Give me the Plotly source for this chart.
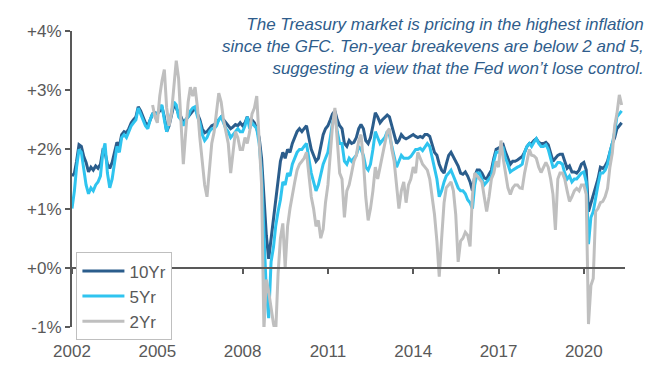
import pandas as pd
import plotly.graph_objects as go

# Monthly breakeven inflation readings (%)
ten_yr = [
    1.55, 1.6, 1.8, 2.08, 2.05, 1.88, 1.78, 1.62, 1.7, 1.65, 1.72, 1.68,   # 2002
    1.75, 1.98, 1.95, 1.75, 1.68, 1.78, 1.95, 2.12, 2.05, 2.25, 2.3, 2.28,  # 2003
    2.35, 2.45, 2.5, 2.55, 2.72, 2.65, 2.55, 2.45, 2.4, 2.5, 2.6, 2.62,     # 2004
    2.6, 2.65, 2.72, 2.55, 2.3, 2.4, 2.55, 2.75, 2.7, 2.6, 2.55, 2.45,      # 2005
    2.5, 2.55, 2.6, 2.65, 2.7, 2.6, 2.5, 2.35, 2.28, 2.3, 2.35, 2.4,        # 2006
    2.42, 2.45, 2.5, 2.55, 2.5, 2.45, 2.4, 2.35, 2.38, 2.42, 2.4, 2.45,     # 2007
    2.4, 2.45, 2.55, 2.45, 2.5, 2.45, 2.35, 2.2, 1.85, 1.2, 0.55, 0.15,     # 2008
    0.5, 0.9, 1.2, 1.5, 1.8, 1.95, 1.85, 2.0, 1.95, 2.1, 2.2, 2.3,          # 2009
    2.35, 2.3, 2.35, 2.4, 2.2, 2.0, 1.9, 1.8, 1.85, 2.05, 2.25, 2.35,       # 2010
    2.4, 2.5, 2.6, 2.65, 2.5, 2.4, 2.35, 2.1, 2.05, 2.15, 2.1, 2.12,        # 2011
    2.2, 2.35, 2.42, 2.35, 2.15, 2.1, 2.2, 2.4, 2.62, 2.55, 2.45, 2.5,      # 2012
    2.55, 2.58, 2.55, 2.4, 2.25, 2.1, 2.15, 2.25, 2.2, 2.18, 2.2, 2.22,     # 2013
    2.25, 2.22, 2.2, 2.22, 2.2, 2.25, 2.25, 2.22, 2.1, 1.95, 1.9, 1.75,     # 2014
    1.65, 1.6, 1.75, 1.9, 1.95, 1.88, 1.8, 1.72, 1.6, 1.58, 1.62, 1.55,     # 2015
    1.45, 1.3, 1.55, 1.65, 1.65, 1.6, 1.52, 1.5, 1.58, 1.65, 1.85, 2.0,     # 2016
    2.02, 2.05, 2.08, 1.95, 1.85, 1.75, 1.8, 1.8, 1.82, 1.85, 1.88, 1.95,   # 2017
    2.05, 2.1, 2.1, 2.15, 2.18, 2.12, 2.1, 2.1, 2.12, 2.08, 1.95, 1.8,      # 2018
    1.85, 1.9, 1.92, 1.92, 1.8, 1.68, 1.72, 1.62, 1.62, 1.6, 1.65, 1.75,    # 2019
    1.78, 1.65, 0.95, 1.1, 1.2, 1.35, 1.5, 1.7, 1.68, 1.72, 1.8, 1.95,      # 2020
    2.1, 2.2, 2.35, 2.4, 2.45,                                              # 2021
]

five_yr = [
    1.0, 1.3, 1.7, 2.0, 1.95, 1.7, 1.4, 1.25, 1.35, 1.3, 1.4, 1.45,         # 2002
    1.55, 1.95, 2.1, 1.6, 1.35, 1.5, 1.8, 2.05, 1.95, 2.2, 2.25, 2.2,       # 2003
    2.3, 2.4, 2.45, 2.5, 2.7, 2.6, 2.5, 2.4, 2.35, 2.5, 2.6, 2.6,           # 2004
    2.6, 2.7, 2.75, 2.5, 2.3, 2.45, 2.6, 2.8, 2.75, 2.55, 2.5, 2.4,         # 2005
    2.5, 2.55, 2.65, 2.7, 2.72, 2.55, 2.45, 2.25, 2.15, 2.2, 2.3, 2.35,     # 2006
    2.35, 2.4, 2.5, 2.55, 2.45, 2.35, 2.3, 2.2, 2.25, 2.3, 2.35, 2.3,       # 2007
    2.3, 2.4, 2.55, 2.35, 2.45, 2.4, 2.35, 2.1, 1.6, 0.6, -0.4, -0.85,      # 2008
    0.1, 0.35, 0.7, 0.95, 1.15, 1.45, 1.4, 1.6, 1.55, 1.75, 1.85, 1.95,     # 2009
    2.0, 2.0, 2.05, 2.1, 1.85, 1.6, 1.45, 1.3, 1.4, 1.55, 1.75, 1.85,       # 2010
    1.95, 2.2, 2.45, 2.6, 2.3, 2.1, 2.1, 1.8, 1.75, 1.85, 1.8, 1.85,        # 2011
    1.9, 2.05, 2.0, 1.9, 1.7, 1.65, 1.75, 2.0, 2.3, 2.2, 2.1, 2.15,         # 2012
    2.2, 2.3, 2.25, 2.05, 1.85, 1.7, 1.8, 1.9, 1.85, 1.85, 1.85, 1.88,      # 2013
    1.95, 2.0, 2.0, 2.02, 1.98, 2.05, 2.1, 2.05, 1.85, 1.65, 1.5, 1.2,      # 2014
    1.3, 1.45, 1.55, 1.6, 1.65, 1.55, 1.45, 1.35, 1.3, 1.3, 1.25, 1.15,     # 2015
    1.1, 1.0, 1.4, 1.6, 1.6, 1.5, 1.4, 1.45, 1.5, 1.55, 1.8, 1.95,          # 2016
    1.95, 2.0, 2.02, 1.85, 1.75, 1.62, 1.65, 1.68, 1.7, 1.72, 1.75, 1.95,   # 2017
    2.05, 2.1, 2.05, 2.12, 2.18, 2.1, 2.05, 2.05, 2.08, 2.0, 1.85, 1.7,     # 2018
    1.72, 1.78, 1.78, 1.75, 1.6, 1.5, 1.55, 1.45, 1.5, 1.5, 1.55, 1.6,      # 2019
    1.62, 1.45, 0.4, 0.85, 0.95, 1.2, 1.4, 1.6, 1.6, 1.65, 1.75, 1.95,      # 2020
    2.1, 2.3, 2.55, 2.6, 2.65,                                              # 2021
]

two_yr = [
    2.75, 2.55,                                                             # 2004 (Nov-Dec)
    2.45, 2.9, 3.15, 3.35, 2.7, 2.4, 2.6, 3.1, 3.5, 3.2, 2.4, 1.75,         # 2005
    2.3, 2.8, 3.05, 2.9, 3.05, 2.7, 2.2, 1.8, 1.4, 1.2, 1.6, 2.1,           # 2006
    2.3, 2.7, 2.95, 2.8, 2.5, 2.3, 2.1, 1.6, 2.0, 2.3, 2.2, 2.0,            # 2007
    2.0, 2.2, 2.1, 2.3, 2.6, 2.7, 2.9, 2.2, 1.4, -1.05, -0.2, -0.4,         # 2008
    -0.7, -0.95, -1.1, -0.1, 0.5, 0.75, 0.0, 0.7, 1.0, 1.25, 1.45, 1.65,    # 2009
    1.75, 1.8, 1.85, 1.95, 1.6, 1.2, 1.0, 0.7, 0.8, 0.5, 0.65, 1.1,         # 2010
    1.4, 2.0, 2.4, 2.7, 2.2, 1.6, 1.5, 0.85, 1.3, 1.4, 1.6, 1.8,            # 2011
    1.9, 2.15, 2.25, 1.8, 1.2, 0.8, 1.0, 1.3, 1.7, 1.5, 1.7, 1.9,           # 2012
    2.05, 2.3, 2.35, 2.0, 1.8, 1.4, 1.0, 1.3, 1.45, 1.1, 1.4, 1.5,          # 2013
    1.7, 1.6, 1.95, 1.85, 1.75, 1.7, 1.65, 1.5, 1.2, 0.9, 0.45, -0.15,      # 2014
    0.5, 1.1, 1.35, 1.4, 1.45, 1.3, 0.9, 0.1, 0.45, 0.5, 0.6, 0.55,         # 2015
    0.36, 1.24, 1.6, 1.55, 1.5, 1.45, 1.2, 0.95, 1.2, 1.5, 1.6, 1.8,        # 2016
    1.7, 2.15, 1.85, 1.55, 1.35, 1.24, 1.35, 1.4, 1.4, 1.35, 1.34, 1.6,     # 2017
    1.8, 2.0, 1.9, 1.89, 1.85, 1.7, 1.61, 1.7, 1.78, 1.7, 1.5, 1.24,        # 2018
    0.64, 1.5, 1.6, 1.6, 1.5, 1.3, 1.12, 1.2, 1.3, 1.34, 1.3, 1.4,          # 2019
    1.4, 1.24, -0.95, -0.3, -0.18, 0.95, 1.0, 1.1, 1.12, 1.2, 1.34, 1.7,    # 2020
    1.94, 2.4, 2.6, 2.92, 2.75,                                             # 2021
]

ten_start, two_start = "2002-01-01", "2004-11-01"
y_ticks = [-1, 0, 1, 2, 3, 4]
y_tick_labels = ["-1%", "+0%", "+1%", "+2%", "+3%", "+4%"]
series_names = ["10Yr", "5Yr", "2Yr"]
title_lines = [
    "The Treasury market is pricing in the highest inflation",
    "since the GFC. Ten-year breakevens are below 2 and 5,",
    "suggesting a view that the Fed won\u2019t lose control.",
]

dates_main = pd.date_range(ten_start, periods=len(ten_yr), freq="MS")
dates_two = pd.date_range(two_start, periods=len(two_yr), freq="MS")

AX = "#595959"
FONT = "Liberation Sans, Arial, sans-serif"
x_range = ["2002-01-01", "2021-06-13"]

fig = go.Figure()
fig.add_trace(go.Scatter(x=dates_main, y=ten_yr, mode="lines", name=series_names[0],
                         line=dict(color="#2B5D8C", width=3)))
fig.add_trace(go.Scatter(x=dates_main, y=five_yr, mode="lines", name=series_names[1],
                         line=dict(color="#2FC4EF", width=3)))
fig.add_trace(go.Scatter(x=dates_two, y=two_yr, mode="lines", name=series_names[2],
                         line=dict(color="#BFBFBF", width=3)))
# invisible helper trace so the zero-crossing axis is drawn
fig.add_trace(go.Scatter(x=[], y=[], xaxis="x2", showlegend=False, hoverinfo="skip"))

fig.update_layout(
    width=654, height=365,
    margin=dict(l=64, r=37, t=23, b=35),
    paper_bgcolor="white", plot_bgcolor="white",
    font=dict(family=FONT, size=17, color=AX),
    showlegend=True,
    legend=dict(x=0.008, y=0.252, xanchor="left", yanchor="top",
                bgcolor="white", bordercolor="#BFBFBF", borderwidth=1,
                itemwidth=42,
                font=dict(size=17, color=AX), tracegroupgap=0),
    xaxis=dict(type="date", range=x_range, tick0="2002-01-01", dtick="M36",
               tickformat="%Y", showgrid=False, zeroline=False, showline=False,
               ticks="", ticklabelstandoff=12,
               tickfont=dict(size=17, color=AX)),
    xaxis2=dict(type="date", range=x_range, overlaying="x", anchor="free",
                position=0.2, tick0="2002-01-01", dtick="M36",
                showgrid=False, zeroline=False, showline=True, linecolor=AX,
                linewidth=2, ticks="outside", ticklen=5, tickwidth=2, tickcolor=AX,
                showticklabels=False),
    yaxis=dict(range=[-1, 4], tickvals=y_ticks, ticktext=y_tick_labels,
               showgrid=False, zeroline=False, showline=True, linecolor=AX,
               linewidth=2, ticks="outside", ticklen=5, tickwidth=2, tickcolor=AX,
               tickfont=dict(size=17, color=AX)),
    annotations=[dict(
        text="<br>".join(f"<i>{t}</i>" for t in title_lines),
        xref="paper", yref="paper", x=1.038, y=1.062,
        xanchor="right", yanchor="top", align="right", showarrow=False,
        font=dict(family=FONT, size=17, color="#2F5D8C"),
    )],
)

fig.write_html("out.html")
